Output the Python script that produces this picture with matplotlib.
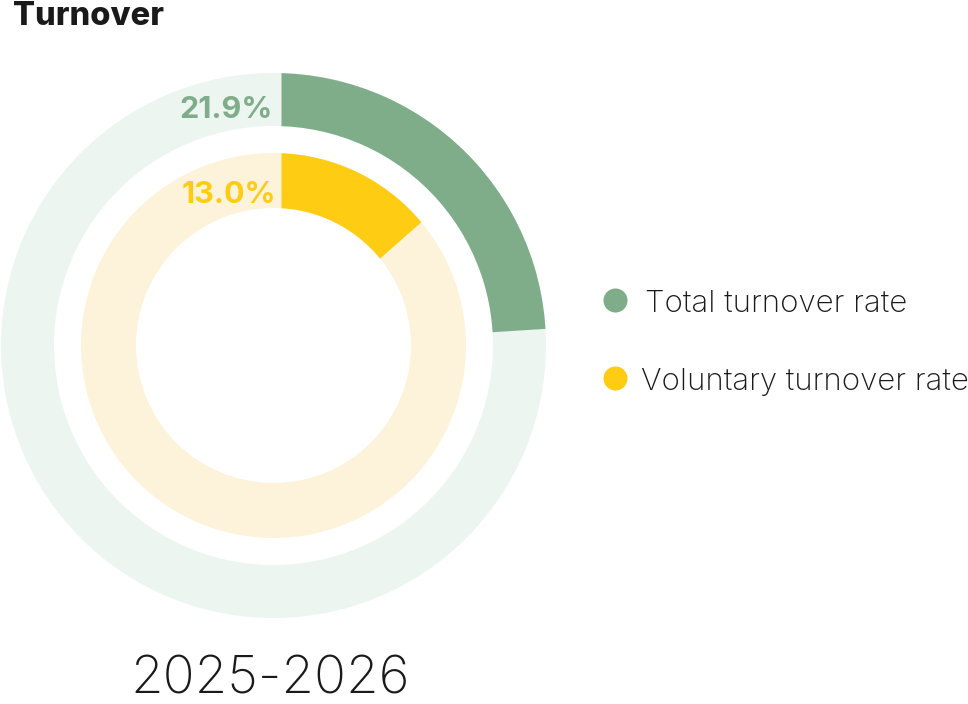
import numpy as np
import matplotlib
matplotlib.use("Agg")
import matplotlib.pyplot as plt
from matplotlib.patches import Polygon

W, H = 968, 704

# data
series = ["Total turnover rate", "Voluntary turnover rate"]
rates = [21.9, 13.0]          # printed labels
arc_share = [24.0, 13.5]      # share of the ring the coloured arc covers
period = "2025-2026"

DARK = ["#80ad89", "#ffcc14"]
LIGHT = ["#edf5f0", "#fdf3da"]

fig = plt.figure(figsize=(W / 100, H / 100), dpi=100)
ax = fig.add_axes([0, 0, 1, 1])

cx, cy = 273.5, H - 345.5
rings = [(272.5, 53), (192.5, 55)]  # outer radius, width (pixels)
shift = 8  # arc ends are cut along rays from a point this far right of the centre

for i, (share, (r, w)) in enumerate(zip(arc_share, rings)):
    # light track
    ax.pie([100], radius=r, center=(cx, cy), colors=[LIGHT[i]],
           wedgeprops=dict(width=w, linewidth=0))
    # coloured arc, a little longer, then cut by the clip cone below
    wedges, _ = ax.pie([share + 3, 100 - share - 3], radius=r, center=(cx, cy), startangle=90,
                       counterclock=False, colors=[DARK[i], "none"],
                       wedgeprops=dict(width=w, linewidth=0))
    phi = np.radians(share / 100 * 360)
    up = np.array([0.0, 1.0])
    d = np.array([np.sin(phi), np.cos(phi)])
    apex = np.array([cx + shift, cy])
    L = 3000
    clip = Polygon([apex, apex + L * up, apex + L * (up + d), apex + L * d],
                   closed=True, transform=ax.transData, facecolor="none", edgecolor="none")
    wedges[0].set_clip_on(True)
    wedges[0].set_clip_path(clip)

ax.set_xlim(0, W)
ax.set_ylim(0, H)
ax.set_aspect("equal")
ax.axis("off")

# value labels
ax.text(273, H - 118, f"{rates[0]:.1f}%", ha="right", va="baseline", fontsize=22,
        fontweight="bold", color=DARK[0], family="Inter")
ax.text(276, H - 203, f"{rates[1]:.1f}%", ha="right", va="baseline", fontsize=22,
        fontweight="bold", color=DARK[1], family="Inter")

# title
ax.text(13, H - 25, "Turnover", ha="left", va="baseline", fontsize=23.5,
        fontweight="heavy", color="#1a1a1a", family="Inter")

# legend
leg_y = [300, 378]
leg_x = [645, 641]
for i, name in enumerate(series):
    ax.scatter([615], [H - leg_y[i]], s=300, color=DARK[i], linewidths=0)
    ax.text(leg_x[i], H - leg_y[i] - 12, name, ha="left", va="baseline", fontsize=22.5,
            fontweight="light", color="#1a1a1a", family="Inter")

ax.text(270, H - 693, period, ha="center", va="baseline", fontsize=38,
        fontweight="light", color="#1a1a1a", family="Inter")

fig.savefig("out.png", dpi=100)
